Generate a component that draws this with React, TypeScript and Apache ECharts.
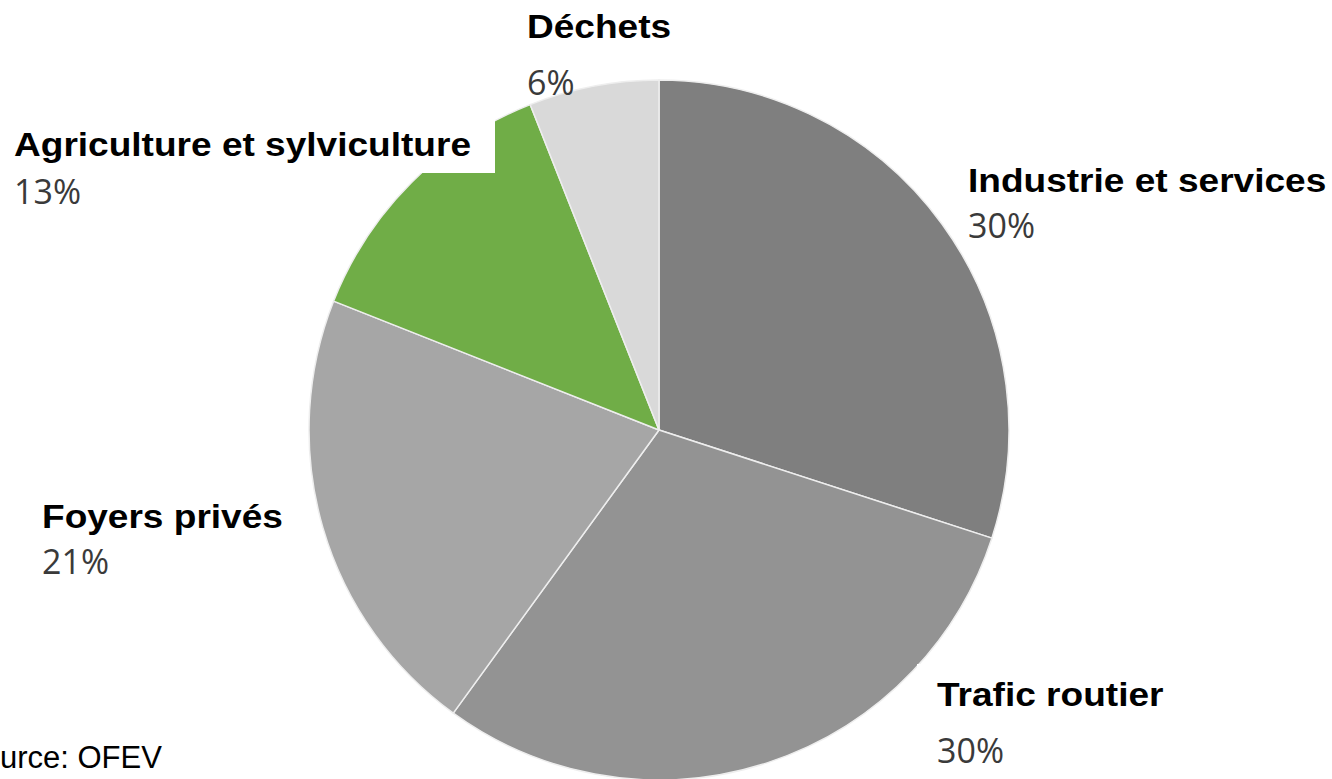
import React, { useEffect, useRef } from "react";
import * as echarts from "echarts";

const categories = [
  "Industrie et services",
  "Trafic routier",
  "Foyers privés",
  "Agriculture et sylviculture",
  "Déchets",
];
const values = [30, 30, 21, 13, 6];
const sliceColors = ["#7f7f7f", "#939393", "#a6a6a6", "#70ad47", "#d9d9d9"];
const sourceText = "Source: OFEV";

// label anchor positions (left x, name center y, percent center y)
const labelPos: [number, number, number][] = [
  [968, 181, 225],
  [937, 695, 750],
  [42, 517, 561],
  [14, 145, 191],
  [527, 27, 82],
];

export default function App() {
  const ref = useRef<HTMLDivElement>(null);
  useEffect(() => {
    if (!ref.current) return;
    const chart = echarts.init(ref.current, null, { renderer: "svg" });
    const total = values.reduce((a, b) => a + b, 0);
    const labelEls: any[] = [];
    categories.forEach((c, i) => {
      const [x, yn, yp] = labelPos[i];
      labelEls.push({
        type: "text",
        z: 20,
        x,
        y: yn,
        scaleX: 1.09,
        style: {
          text: c,
          font: "bold 34px 'Liberation Sans', Arial, sans-serif",
          fill: "#000",
          textAlign: "left",
          textVerticalAlign: "middle",
        },
      });
      labelEls.push({
        type: "text",
        z: 20,
        x,
        y: yp,
        style: {
          text: Math.round((values[i] / total) * 100) + "%",
          font: "34px 'Open Sans', sans-serif",
          fill: "#3a3a3a",
          textAlign: "left",
          textVerticalAlign: "middle",
        },
      });
    });
    chart.setOption({
      animation: false,
      backgroundColor: "#fff",
      series: [
        {
          type: "pie",
          center: [659, 430],
          radius: 350,
          startAngle: 90,
          clockwise: true,
          label: { show: false },
          labelLine: { show: false },
          itemStyle: { borderColor: "#eeeeee", borderWidth: 1.5 },
          emphasis: { disabled: true },
          data: categories.map((c, i) => ({
            name: c,
            value: values[i],
            itemStyle: { color: sliceColors[i] },
          })),
        },
      ],
      graphic: [
        { type: "rect", z: 10, shape: { x: 0, y: 112, width: 495, height: 61 }, style: { fill: "#fff" } },
        { type: "rect", z: 10, shape: { x: 917, y: 664, width: 415, height: 115 }, style: { fill: "#fff" } },
        ...labelEls,
        {
          type: "text",
          z: 20,
          x: -38,
          y: 757,
          style: {
            text: sourceText,
            font: "31px 'Liberation Sans', Arial, sans-serif",
            fill: "#000",
            textAlign: "left",
            textVerticalAlign: "middle",
          },
        },
      ],
    });
    return () => chart.dispose();
  }, []);
  return <div ref={ref} style={{ width: 1332, height: 779, position: "absolute", left: 0, top: 0 }} />;
}
